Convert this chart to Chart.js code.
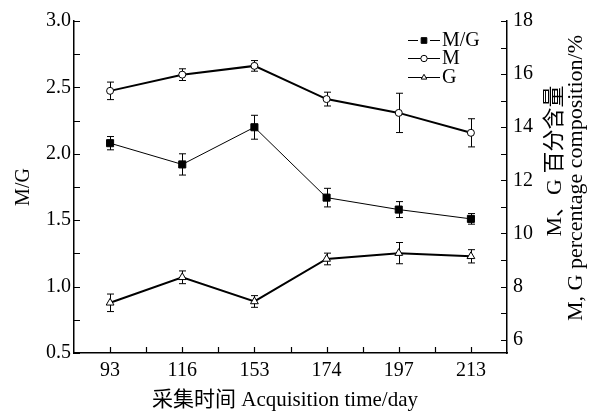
<!DOCTYPE html>
<html>
<head>
<meta charset="utf-8">
<script src="https://cdn.jsdelivr.net/npm/chart.js@4"></script>
<style>
html, body { margin: 0; padding: 0; background: #fff; }
</style>
</head>
<body>
<canvas id="chart" width="593" height="412"></canvas>
<script>
// sampling days
const days = ["93", "116", "153", "174", "197", "213"];

// M/G ratio (left axis)
const ratioMG = [2.08, 1.92, 2.20, 1.67, 1.58, 1.51];
const ratioMGErr = [0.05, 0.08, 0.09, 0.07, 0.06, 0.04];

// M and G percentage (right axis)
const percentM = [15.37, 15.98, 16.31, 15.06, 14.54, 13.79];
const percentMErr = [0.33, 0.22, 0.20, 0.26, 0.74, 0.53];
const percentG = [7.39, 8.35, 7.44, 9.04, 9.26, 9.14];
const percentGErr = [0.33, 0.24, 0.22, 0.22, 0.40, 0.25];

const leftTicks = [0.5, 0.75, 1.0, 1.25, 1.5, 1.75, 2.0, 2.25, 2.5, 2.75, 3.0];
const rightTicks = [6, 7, 8, 9, 10, 11, 12, 13, 14, 15, 16, 17, 18];

const FONT = '"Liberation Serif", "Noto Sans CJK SC", serif';

// error bars drawn under the markers
const errorBars = {
    id: "errorBars",
    beforeDatasetsDraw(chart) {
        const ctx = chart.ctx;
        ctx.save();
        ctx.strokeStyle = "#000";
        ctx.lineWidth = 1;
        chart.data.datasets.forEach((ds, i) => {
            const meta = chart.getDatasetMeta(i);
            const scale = chart.scales[ds.yAxisID];
            meta.data.forEach((pt, j) => {
                const x = Math.round(pt.x) + 0.5;
                const top = scale.getPixelForValue(ds.data[j] + ds.errors[j]);
                const bot = scale.getPixelForValue(ds.data[j] - ds.errors[j]);
                ctx.beginPath();
                ctx.moveTo(x, top); ctx.lineTo(x, bot);
                ctx.moveTo(x - 3.5, top); ctx.lineTo(x + 3.5, top);
                ctx.moveTo(x - 3.5, bot); ctx.lineTo(x + 3.5, bot);
                ctx.stroke();
            });
        });
        ctx.restore();
    }
};

// tick marks pointing into the plot
const inwardTicks = {
    id: "inwardTicks",
    afterDraw(chart) {
        const { ctx, chartArea: a, scales } = chart;
        ctx.save();
        ctx.strokeStyle = "#000";
        ctx.lineWidth = 1.2;
        ctx.beginPath();
        scales.y.ticks.forEach(t => {
            const p = Math.round(scales.y.getPixelForValue(t.value)) + 0.5;
            ctx.moveTo(a.left, p); ctx.lineTo(a.left + 6, p);
        });
        scales.y2.ticks.forEach(t => {
            const p = Math.round(scales.y2.getPixelForValue(t.value)) + 0.5;
            ctx.moveTo(a.right, p); ctx.lineTo(a.right - 6, p);
        });
        const n = scales.x.ticks.length;
        for (let i = 0; i < n; i++) {
            const p = Math.round(scales.x.getPixelForTick(i)) + 0.5;
            ctx.moveTo(p, a.bottom); ctx.lineTo(p, a.bottom - 6);
            if (i < n - 1) {
                const q = Math.round((scales.x.getPixelForTick(i) + scales.x.getPixelForTick(i + 1)) / 2) + 0.5;
                ctx.moveTo(q, a.bottom); ctx.lineTo(q, a.bottom - 6);
            }
        }
        ctx.stroke();
        ctx.restore();
    }
};

// axis titles and the legend
const annotations = {
    id: "annotations",
    afterDraw(chart) {
        const ctx = chart.ctx;
        const a = chart.chartArea;
        ctx.save();
        ctx.fillStyle = "#000";
        ctx.textAlign = "center";
        ctx.textBaseline = "middle";

        ctx.font = "21px " + FONT;
        ctx.fillText("采集时间 Acquisition time/day", 285, 400);

        ctx.font = "20px " + FONT;
        ctx.save();
        ctx.translate(24, (a.top + a.bottom) / 2);
        ctx.rotate(-Math.PI / 2);
        ctx.fillText("M/G", 0, 0);
        ctx.restore();

        ctx.font = "22px " + FONT;
        ctx.save();
        ctx.translate(555, 161);
        ctx.rotate(-Math.PI / 2);
        ctx.fillText("M、G 百分含量", 0, 0);
        ctx.restore();

        ctx.save();
        ctx.translate(576, 178);
        ctx.rotate(-Math.PI / 2);
        ctx.fillText("M, G percentage composition/%", 0, 0);
        ctx.restore();

        // legend
        ctx.font = "20px " + FONT;
        ctx.textAlign = "left";
        const rows = [40, 58, 77];
        chart.data.datasets.forEach((ds, i) => {
            const y = rows[i] + 0.5;
            ctx.strokeStyle = "#000";
            ctx.lineWidth = 1;
            ctx.beginPath();
            if (ds.pointStyle === "rect") {
                ctx.moveTo(408, y); ctx.lineTo(418, y);
                ctx.moveTo(430, y); ctx.lineTo(440, y);
            } else {
                ctx.moveTo(408, y); ctx.lineTo(440, y);
            }
            ctx.stroke();
            ctx.fillStyle = ds.pointBackgroundColor;
            Chart.helpers.drawPoint(ctx, {
                pointStyle: ds.pointStyle,
                radius: ds.pointStyle === "rect" ? 4 : 3.2,
                rotation: 0,
                borderWidth: 1
            }, 424, y);
            ctx.fillStyle = "#000";
            ctx.fillText(ds.label, 442, rows[i] + 1);
        });
        ctx.restore();
    }
};

new Chart(document.getElementById("chart").getContext("2d"), {
    type: "line",
    data: {
        labels: days,
        datasets: [{
            label: "M/G",
            data: ratioMG,
            errors: ratioMGErr,
            yAxisID: "y",
            borderColor: "#000",
            borderWidth: 1,
            pointStyle: "rect",
            pointRadius: 5,
            pointBackgroundColor: "#000",
            pointBorderColor: "#000",
            pointBorderWidth: 1
        }, {
            label: "M",
            data: percentM,
            errors: percentMErr,
            yAxisID: "y2",
            borderColor: "#000",
            borderWidth: 2,
            pointStyle: "circle",
            pointRadius: 3.5,
            pointBackgroundColor: "#fff",
            pointBorderColor: "#000",
            pointBorderWidth: 1
        }, {
            label: "G",
            data: percentG,
            errors: percentGErr,
            yAxisID: "y2",
            borderColor: "#000",
            borderWidth: 2,
            pointStyle: "triangle",
            pointRadius: 4.5,
            pointBackgroundColor: "#fff",
            pointBorderColor: "#000",
            pointBorderWidth: 1
        }]
    },
    options: {
        responsive: false,
        animation: false,
        layout: { padding: { top: 21, left: 0, right: 0, bottom: 0 } },
        plugins: { legend: { display: false }, tooltip: { enabled: false } },
        elements: { line: { tension: 0 } },
        scales: {
            x: {
                offset: true,
                grid: { display: false, drawTicks: false },
                border: { display: true, color: "#000", width: 1.5 },
                ticks: { color: "#000", font: { family: FONT, size: 20 }, padding: 6, maxRotation: 0 },
                afterFit: s => { s.height = 59; }
            },
            y: {
                position: "left",
                min: 0.5,
                max: 3.0,
                grid: { display: false, drawTicks: false },
                border: { display: true, color: "#000", width: 1.5 },
                afterBuildTicks: s => { s.ticks = leftTicks.map(v => ({ value: v })); },
                ticks: {
                    autoSkip: false,
                    color: "#000",
                    font: { family: FONT, size: 20 },
                    padding: 3,
                    callback: v => (Math.abs(v * 2 - Math.round(v * 2)) < 1e-6 ? v.toFixed(1) : "")
                },
                afterFit: s => { s.width = 74; }
            },
            y2: {
                position: "right",
                min: 5.5,
                max: 18,
                grid: { display: false, drawTicks: false },
                border: { display: true, color: "#000", width: 1.5 },
                afterBuildTicks: s => { s.ticks = rightTicks.map(v => ({ value: v })); },
                ticks: {
                    autoSkip: false,
                    color: "#000",
                    font: { family: FONT, size: 20 },
                    padding: 6,
                    callback: v => (v % 2 === 0 ? String(v) : "")
                },
                afterFit: s => { s.width = 86; }
            }
        }
    },
    plugins: [errorBars, inwardTicks, annotations]
});
</script>
</body>
</html>
